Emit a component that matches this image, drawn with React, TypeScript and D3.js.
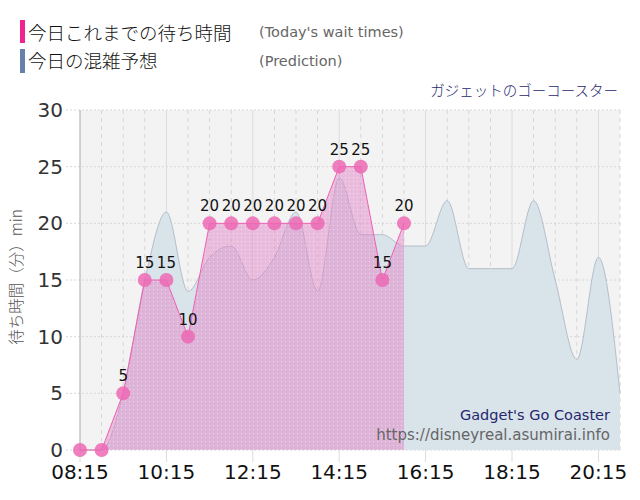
import React from "react";
import * as d3 from "d3";

const startMin = 8 * 60 + 15;
const actualTimes = ["08:15","08:45","09:15","09:45","10:15","10:45","11:15","11:45","12:15","12:45","13:15","13:45","14:15","14:45","15:15","15:45"];
const actualValues = [0,0,5,15,15,10,20,20,20,20,20,20,25,25,15,20];
const predTimes = ["08:15","08:45","09:15","09:45","10:15","10:45","11:15","11:45","12:15","12:45","13:15","13:45","14:15","14:45","15:15","15:45","16:15","16:45","17:15","17:45","18:15","18:45","19:15","19:45","20:15","20:45"];
const predValues = [0,0,5,15,21,14,17,18,15,17,21,14,24,19,19,18,18,22,16,16,16,22,15,8,17,5];
const xTicks = ["08:15","10:15","12:15","14:15","16:15","18:15","20:15"];
const yTicks = [0,5,10,15,20,25,30];

const toMin = (s: string) => {
  const [h, m] = s.split(":").map(Number);
  return h * 60 + m;
};

export default function App() {
  const W = 640, H = 500;
  const L = 80, R = 620, T = 110, B = 450;
  const x = d3.scaleLinear().domain([startMin, toMin("20:45")]).range([L, R]);
  const y = d3.scaleLinear().domain([0, 30]).range([B, T]);

  const pred = predTimes.map((t, i) => ({ t: toMin(t), v: predValues[i] }));
  const act = actualTimes.map((t, i) => ({ t: toMin(t), v: actualValues[i] }));

  const predArea = d3.area<{ t: number; v: number }>()
    .x(d => x(d.t)).y0(y(0)).y1(d => y(d.v)).curve(d3.curveMonotoneX);
  const predLine = d3.line<{ t: number; v: number }>()
    .x(d => x(d.t)).y(d => y(d.v)).curve(d3.curveMonotoneX);
  const actArea = d3.area<{ t: number; v: number }>()
    .x(d => x(d.t)).y0(y(0)).y1(d => y(d.v));
  const actLine = d3.line<{ t: number; v: number }>()
    .x(d => x(d.t)).y(d => y(d.v));

  const minorTicks: number[] = [];
  for (let m = startMin; m <= toMin("20:45"); m += 30) minorTicks.push(m);

  const jp = "'Noto Sans CJK JP', 'DejaVu Sans', sans-serif";
  const num = "'DejaVu Sans', Verdana, sans-serif";

  return (
    <svg width={W} height={H} style={{ position: "absolute", left: 0, top: 0 }}>
      <defs>
        <pattern id="dots" width="4" height="4" patternUnits="userSpaceOnUse">
          <rect x="1" y="1" width="1" height="1" fill="#ffffff" opacity="0.5" />
        </pattern>
      </defs>
      <rect width={W} height={H} fill="#ffffff" />
      {/* legend */}
      <rect x={20} y={20} width={5} height={23} fill="#f0248f" />
      <text x={28} y={40} fontFamily={jp} fontSize={18.5} fontWeight={300} fill="#111">今日これまでの待ち時間</text>
      <text x={259} y={37} fontFamily={num} fontSize={14.5} fill="#666">(Today's wait times)</text>
      <rect x={20} y={49} width={5} height={24} fill="#6581ac" />
      <text x={28} y={68} fontFamily={jp} fontSize={18.5} fontWeight={300} fill="#111">今日の混雑予想</text>
      <text x={259} y={66} fontFamily={num} fontSize={14.5} fill="#666">(Prediction)</text>
      <text x={618} y={96} textAnchor="end" fontFamily={jp} fontSize={14.5} fontWeight={300} fill="#27276e">ガジェットのゴーコースター</text>

      {/* plot background */}
      <rect x={L} y={T} width={R - L} height={B - T} fill="#f3f3f3" />
      {yTicks.map(v => (
        <line key={"h" + v} x1={66} x2={R} y1={y(v)} y2={y(v)} stroke="#d8d8d8" strokeDasharray="2,2" />
      ))}
      {minorTicks.map(m => {
        const major = (m - startMin) % 120 === 0;
        return (
          <line key={"v" + m} x1={x(m)} x2={x(m)} y1={T} y2={major ? 462 : B}
            stroke={major ? "#dcdcdc" : "#d6d6d6"} strokeDasharray={major ? undefined : "4,4"} />
        );
      })}
      <line x1={L} x2={L} y1={T} y2={B} stroke="#b8b8c0" />

      {/* prediction */}
      <path d={predArea(pred) || ""} fill="#d9e3ea" />
      <path d={predLine(pred) || ""} fill="none" stroke="#b4bfca" strokeWidth={1} />

      {/* actual */}
      <path d={actArea(act) || ""} fill="rgba(224,136,200,0.52)" />
      <path d={actArea(act) || ""} fill="url(#dots)" />
      <path d={actLine(act) || ""} fill="none" stroke="#f060b0" strokeWidth={1} />
      {act.map((d, i) => (
        <circle key={"c" + i} cx={x(d.t)} cy={y(d.v)} r={7} fill="#ec68b4" opacity={0.85} />
      ))}
      {act.map((d, i) => d.v > 0 ? (
        <text key={"l" + i} x={x(d.t)} y={y(d.v) - 12} textAnchor="middle" fontFamily={num} fontSize={15} fill="#111">{d.v}</text>
      ) : null)}

      {/* axes labels */}
      {yTicks.map(v => (
        <text key={"yl" + v} x={63} y={y(v) + 7} textAnchor="end" fontFamily={num} fontSize={20} fill="#333">{v}</text>
      ))}
      {xTicks.map(t => (
        <text key={"xl" + t} x={x(toMin(t))} y={479} textAnchor="middle" fontFamily={num} fontSize={20} fill="#111">{t}</text>
      ))}
      <text transform={`translate(22,${277}) rotate(-90)`} textAnchor="middle" fontFamily={jp} fontSize={15.5} fontWeight={300} fill="#555">待ち時間（分）min</text>

      {/* watermark */}
      <text x={610} y={420} textAnchor="end" fontFamily={num} fontSize={14.5} fill="#27276e">Gadget's Go Coaster</text>
      <text x={610} y={440} textAnchor="end" fontFamily={num} fontSize={15} fill="#666">https://disneyreal.asumirai.info</text>
    </svg>
  );
}
